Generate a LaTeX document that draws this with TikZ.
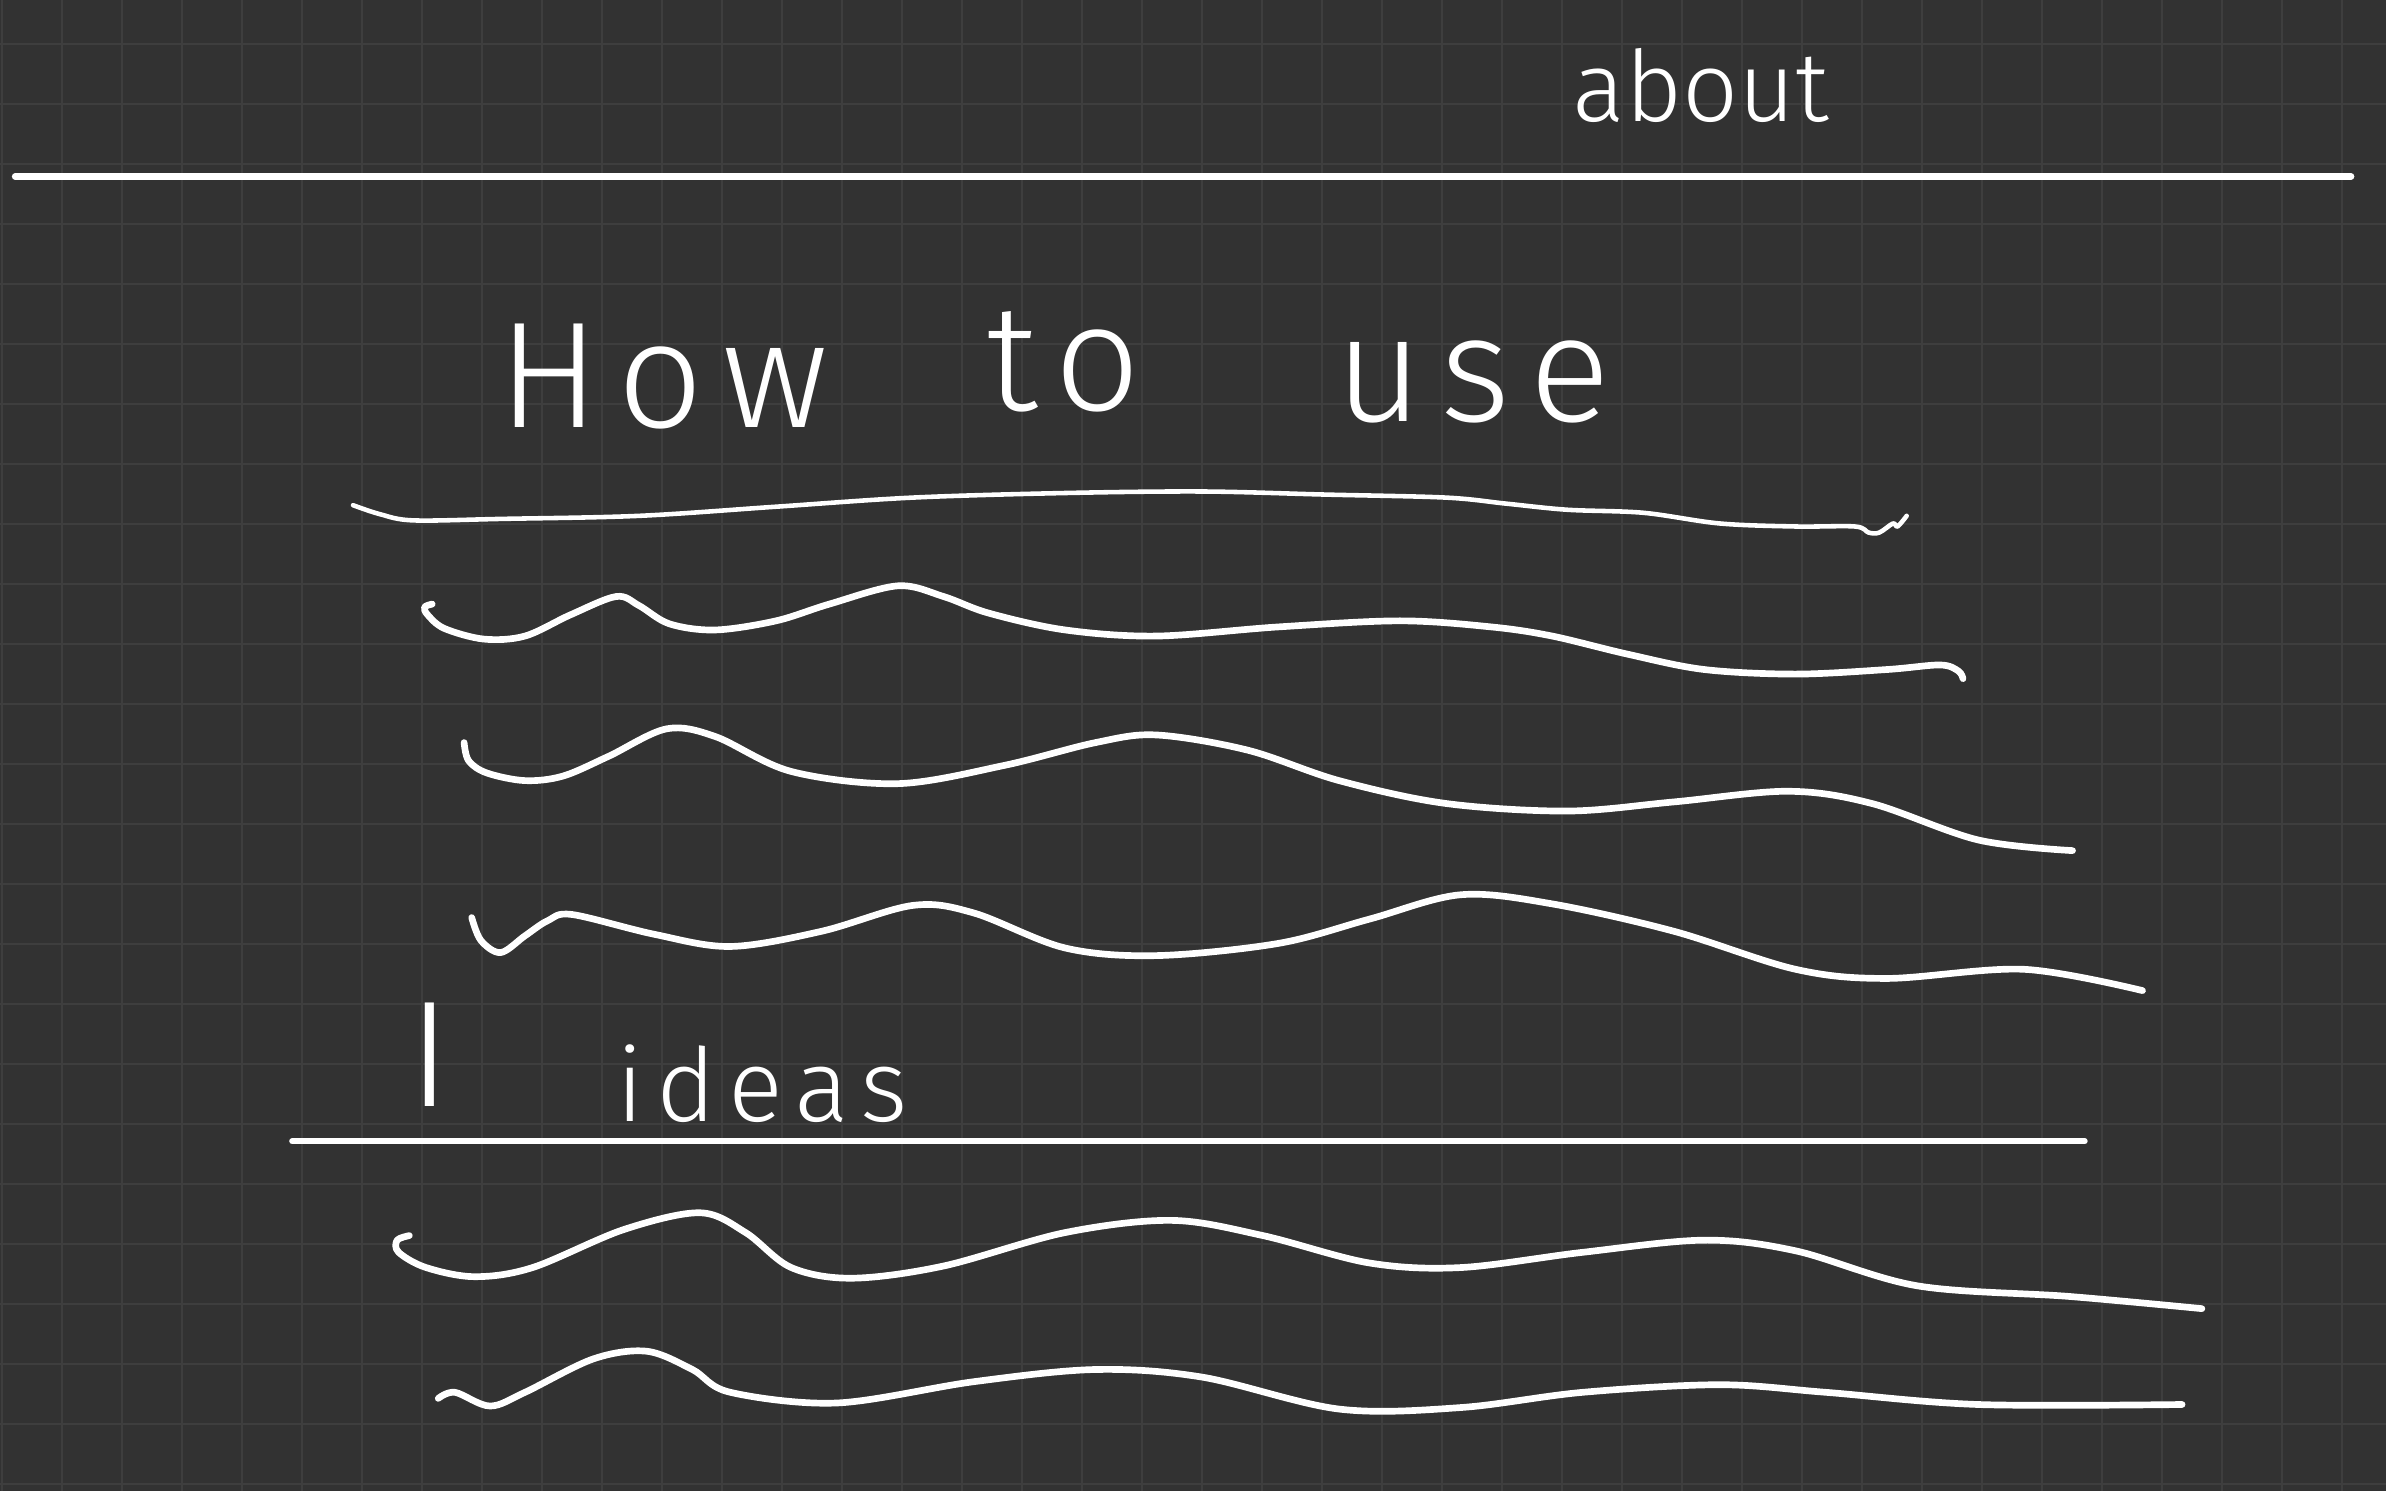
\documentclass[tikz,border=0pt]{standalone}
\usepackage{fontspec}
\usepackage{xcolor}
\usepackage{tikz}
\newfontfamily\handfont{Fira Sans Light}
\newfontfamily\widehand{Fira Sans Light}[LetterSpace=12]
\definecolor{boardBg}{HTML}{323232}
\definecolor{boardGrid}{HTML}{3E3E3E}
\definecolor{chalk}{HTML}{FFFFFF}

\begin{document}
\begin{tikzpicture}[
  x=0.015217cm, y=-0.015217cm,
  gridline/.style={draw=boardGrid, line width=0.8pt},
  rule/.style={draw=chalk, line width=1.9pt, line cap=round},
  scribble/.style={draw=chalk, line width=1.9pt, line cap=round, line join=round},
  hand/.style={text=chalk, inner sep=0pt, anchor=base west},
  big/.style={hand, font=\widehand\fontsize{43}{50}\selectfont},
  small/.style={hand, font=\widehand\fontsize{29}{35}\selectfont}
]
  % board
  \fill[boardBg] (0,0) rectangle (1568,980);
  \useasboundingbox (0,0) rectangle (1568,980);
  \foreach \i in {0,...,39} {
    \draw[gridline] ({1.31+39.43*\i},0) -- ++(0,980);
  }
  \foreach \j in {0,...,24} {
    \draw[gridline] (0,{28.9+39.43*\j}) -- ++(1568,0);
  }

  % header
  \node[hand, font=\handfont\fontsize{28}{34}\selectfont] (about) at (1033,80) {about};
  \draw[rule] (10,116) -- (1545,116);

  % title
  \node[big] (how) at (327,281) {How};
  \node[big] (to) at (648,270) {to};
  \node[big] (use) at (877,277) {use};

  \draw[scribble, line width=1.3pt] plot[smooth, tension=0.55] coordinates {
    (232,332) (250,338) (272,342) (330,341) (420,339) (510,333) (600,327)
    (700,324) (790,323) (870,325) (950,327) (990,331) (1030,335) (1080,337)
    (1130,344) (1180,346) (1219,346) (1228,350) (1235,350) (1244,344)
    (1247,346) (1253,339)};
  \draw[scribble] plot[smooth, tension=0.55] coordinates {
    (284,397) (279,399) (281,404) (292,413) (318,420) (345,418) (375,404)
    (405,392) (420,398) (440,410) (470,414) (510,408) (545,397) (590,385)
    (620,392) (650,403) (700,414) (760,418) (840,412) (920,408) (980,412)
    (1020,418) (1070,430) (1120,440) (1180,443) (1240,440) (1275,437)
    (1287,441) (1290,446)};
  \draw[scribble] plot[smooth, tension=0.55] coordinates {
    (305,488) (308,500) (320,508) (345,513) (370,510) (400,497) (438,479)
    (470,484) (520,507) (590,515) (660,503) (720,488) (760,483) (820,493)
    (880,513) (950,528) (1030,533) (1100,527) (1175,520) (1230,528)
    (1300,552) (1362,559)};
  \draw[scribble] plot[smooth, tension=0.55] coordinates {
    (310,603) (316,618) (329,626) (345,615) (360,605) (376,601) (430,614)
    (480,622) (540,612) (600,595) (640,600) (700,623) (760,628) (840,620)
    (900,604) (960,588) (1020,594) (1100,612) (1180,637) (1240,643)
    (1330,637) (1408,651)};

  % ideas section
  \node[big] (num) at (268,727) {I};
  \node[small] (ideas) at (405,737) {ideas};
  \draw[rule, line width=1.7pt] (192,750) -- (1370,750);

  \draw[scribble] plot[smooth, tension=0.55] coordinates {
    (269,812) (261,815) (262,823) (280,833) (312,839) (350,833) (410,808)
    (460,797) (490,810) (520,833) (560,840) (620,832) (700,810) (770,802)
    (830,812) (900,830) (960,833) (1040,823) (1120,815) (1180,822)
    (1260,845) (1360,852) (1447,860)};
  \draw[scribble] plot[smooth, tension=0.55] coordinates {
    (288,919) (299,915) (322,924) (345,915) (390,893) (425,888) (455,900)
    (480,915) (550,922) (640,908) (720,900) (790,905) (880,926) (960,925)
    (1040,915) (1130,910) (1200,915) (1300,923) (1434,923)};
\end{tikzpicture}
\end{document}
